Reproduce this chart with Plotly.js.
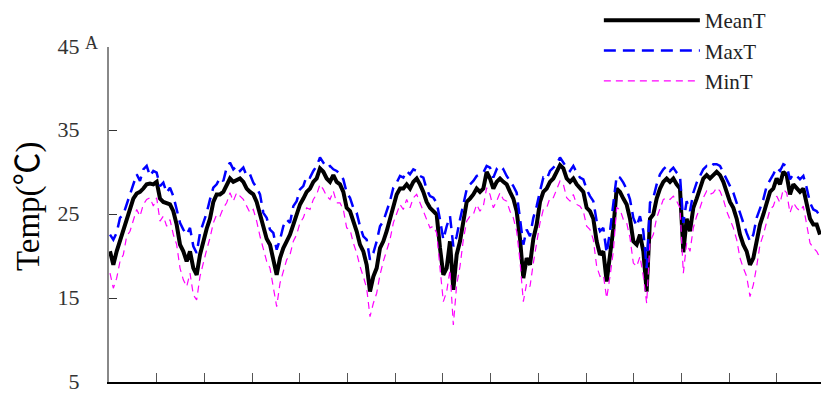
<!DOCTYPE html>
<html>
<head>
<meta charset="utf-8">
<script src="https://cdn.plot.ly/plotly-3.0.1.min.js"></script>
<style>html,body{margin:0;padding:0;background:#fff;}#chart{width:821px;height:394px;}</style>
</head>
<body>
<div id="chart"></div>
<script>
// Daily temperature series (°C)
const seriesNames = ["MeanT", "MaxT", "MinT"];
const yTickVals = [5, 15, 25, 35, 45];
const yTickText = ["5", "15", "25", "35", "45"];
const yTitle = "Temp(℃)";
const panelLabel = "A";

const meanT = [20.6,19.0,20.6,21.8,23.3,24.2,25.4,26.9,27.5,27.7,28.1,28.6,28.7,28.6,28.9,26.9,26.5,26.3,26.2,25.4,
23.8,21.4,20.6,19.4,20.6,18.6,17.8,20.2,21.8,23.3,24.5,26.5,27.4,27.4,27.7,28.6,29.3,28.9,29.1,29.3,
28.9,28.1,27.7,27.4,26.5,25.0,23.3,22.1,21.4,19.4,17.8,19.8,21.0,21.8,22.6,23.8,25.0,26.2,26.9,27.7,
28.1,28.9,29.3,30.5,30.1,29.3,28.9,29.7,28.9,28.6,27.7,25.8,25.4,24.2,23.0,21.4,20.6,19.0,15.8,17.6,
18.6,21.0,21.8,23.0,24.5,26.2,27.4,28.1,28.1,28.6,28.1,28.9,29.3,28.6,27.7,26.5,25.8,25.4,25.0,21.0,
17.8,18.6,21.8,16.0,20.2,21.8,24.5,26.5,26.9,27.4,28.1,27.7,28.1,30.1,29.3,28.1,28.9,29.3,28.9,28.6,
27.7,26.9,25.4,22.1,17.4,19.8,19.0,22.1,23.8,26.5,27.7,28.1,28.9,29.3,30.1,30.9,30.5,29.3,28.9,29.3,
28.6,28.1,27.7,25.8,25.4,24.5,21.8,20.2,20.6,17.0,20.6,23.3,28.1,27.7,26.9,26.2,24.5,21.8,21.4,22.6,
20.6,15.8,24.5,25.0,26.9,28.1,28.9,29.3,28.9,29.3,28.6,28.1,20.5,24.5,23.0,25.8,26.9,28.1,29.3,29.7,
29.3,29.7,30.1,29.7,28.9,27.7,26.5,25.8,24.5,22.6,21.4,20.6,19.0,19.8,21.8,23.8,25.0,26.5,27.7,28.1,
29.3,28.6,30.1,29.7,27.4,28.6,28.1,27.7,28.1,26.5,24.5,23.8,23.8,22.6];

const maxT = [22.6,22.0,22.8,24.6,25.0,26.2,27.4,28.6,29.8,29.0,30.4,30.8,29.6,30.2,30.0,28.4,28.8,27.6,28.2,27.2,
25.6,24.0,23.2,22.6,23.4,21.2,20.4,22.8,24.0,25.2,26.8,28.2,28.6,29.4,29.0,30.6,31.2,30.4,30.8,30.2,
30.6,29.6,29.8,28.8,28.2,27.4,25.2,24.6,23.2,22.8,20.8,22.0,23.6,24.4,24.0,26.0,26.6,28.0,28.4,29.6,
29.4,30.2,30.8,31.8,31.2,30.6,30.8,30.4,30.2,29.8,29.2,27.6,27.0,25.8,25.2,23.6,22.4,22.0,19.6,20.4,
21.8,23.6,24.2,25.4,26.6,28.2,28.8,29.6,29.4,30.2,29.8,30.4,30.2,29.6,29.4,28.0,27.2,27.0,26.4,24.4,
22.0,23.6,24.8,21.2,22.4,24.4,26.4,28.0,28.6,29.0,29.6,29.8,30.0,30.8,30.6,29.4,30.4,30.0,30.4,29.6,
29.0,28.4,27.6,24.8,21.4,23.2,22.4,24.6,26.0,27.8,29.4,29.2,30.2,30.6,31.0,31.8,31.2,30.6,30.2,30.8,
30.0,29.4,29.2,28.0,27.2,26.6,24.2,23.0,23.4,20.4,23.0,26.0,29.6,29.4,28.8,28.0,26.8,24.6,23.6,24.8,
23.0,18.6,26.4,27.0,28.6,29.8,30.4,30.8,30.2,30.6,30.0,29.6,24.0,26.6,25.4,27.6,28.8,29.6,30.4,30.8,
30.6,31.0,31.0,30.8,30.0,29.2,28.2,27.6,26.4,25.2,23.8,22.8,21.8,22.6,24.6,25.8,26.8,28.4,29.2,29.8,
30.6,30.2,31.0,30.8,29.2,29.8,29.6,29.2,29.6,28.2,26.4,25.6,25.4,24.8];

const minT = [18.0,16.2,17.4,19.4,20.2,22.4,23.0,24.4,25.6,24.8,26.2,26.8,27.0,26.0,27.0,24.2,24.8,23.6,24.4,22.6,
21.4,18.6,17.2,16.4,18.0,15.4,14.8,17.6,19.4,20.8,22.2,24.0,25.0,24.8,25.8,26.4,27.6,26.6,27.6,27.2,
26.8,26.0,25.2,25.6,24.2,22.4,20.8,19.4,18.6,16.2,14.0,16.8,18.2,19.6,20.2,21.8,22.6,24.0,24.6,25.8,
25.6,26.8,27.4,28.6,28.0,27.2,26.8,27.8,26.4,26.4,25.6,23.4,23.2,21.6,20.4,18.8,17.6,16.2,12.8,14.4,
15.6,17.8,19.4,20.6,22.0,24.0,25.2,26.2,25.6,26.8,25.8,27.0,27.4,26.4,25.6,24.4,23.4,23.6,22.8,18.6,
14.6,15.8,18.4,11.8,16.6,18.8,22.0,24.2,24.8,25.0,26.2,25.4,26.0,28.2,27.4,25.8,26.6,27.6,26.8,26.6,
25.4,24.6,23.0,19.4,14.6,16.8,16.4,19.2,21.4,24.0,25.6,25.8,27.0,27.0,28.0,29.0,28.6,27.0,26.6,27.4,
26.2,26.0,25.4,23.6,23.2,22.0,18.8,17.6,17.8,15.0,17.6,20.6,25.8,25.6,24.4,24.0,22.2,19.2,18.8,20.0,
17.6,14.4,21.8,22.6,24.6,25.8,26.8,27.0,26.8,27.2,26.6,25.8,18.0,21.6,20.6,23.4,24.8,25.8,27.0,27.8,
27.4,27.6,28.2,27.8,26.8,25.4,24.4,23.4,22.0,19.8,18.6,17.6,15.2,16.6,18.8,21.4,22.6,24.2,25.6,26.0,
27.2,26.4,28.0,27.6,25.2,26.4,25.8,25.4,26.0,23.8,21.6,21.0,20.6,19.8];

const serif = "Liberation Serif, Times New Roman, Noto Sans CJK SC, serif";

const traces = [
  {y: meanT, name: seriesNames[0], type: "scatter", mode: "lines",
   line: {color: "#000000", width: 4}, legendgroup: "a"},
  {y: maxT, name: seriesNames[1], type: "scatter", mode: "lines",
   line: {color: "#0000FF", width: 2.5, dash: "12px,7px"}, legendgroup: "b"},
  {y: minT, name: seriesNames[2], type: "scatter", mode: "lines",
   line: {color: "#FF00FF", width: 1.2, dash: "7px,5px"}, legendgroup: "c"}
];

const layout = {
  width: 821, height: 394,
  margin: {l: 109, r: 0, t: 45, b: 12, pad: 0},
  paper_bgcolor: "#ffffff", plot_bgcolor: "#ffffff",
  showlegend: true,
  legend: {
    x: 0.688, y: 1.14, xanchor: "left", yanchor: "top",
    bgcolor: "rgba(0,0,0,0)", borderwidth: 0,
    font: {family: serif, size: 21, color: "#222"},
    itemwidth: 96, traceorder: "grouped", tracegroupgap: 0
  },
  xaxis: {
    range: [-0.3, 213.3], tickmode: "linear", tick0: -0.3, dtick: 14.31,
    ticks: "inside", ticklen: 9, tickwidth: 1, tickcolor: "#555",
    showticklabels: false, showgrid: false, zeroline: false,
    showline: true, linecolor: "#000", linewidth: 1.5
  },
  yaxis: {
    range: [5, 45], tickmode: "array", tickvals: yTickVals, ticktext: yTickText,
    ticks: "inside", ticklen: 8, tickwidth: 1, tickcolor: "#333",
    showgrid: false, zeroline: false,
    showline: true, linecolor: "#888", linewidth: 2,
    tickfont: {family: serif, size: 22, color: "#333"},
    ticklabelstandoff: 23, ticklabelshift: -1, ticklabeloverflow: "allow"
  },
  annotations: [
    {text: panelLabel, xref: "paper", yref: "paper", x: -0.024, y: 1.012,
     showarrow: false, font: {family: serif, size: 18, color: "#333"},
     xanchor: "center", yanchor: "middle"},
    {text: yTitle, xref: "paper", yref: "paper", x: -0.1138, y: 0.525,
     textangle: -90, showarrow: false, font: {family: serif, size: 33, color: "#000"},
     xanchor: "center", yanchor: "middle"}
  ]
};

Plotly.newPlot("chart", traces, layout, {displayModeBar: false, staticPlot: true});
</script>
</body>
</html>
